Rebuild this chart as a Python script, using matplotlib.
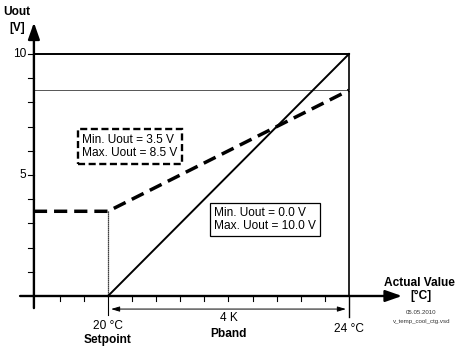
import numpy as np
import matplotlib
matplotlib.use("Agg")
import matplotlib.pyplot as plt

plt.rcParams["font.family"] = ["Liberation Sans", "DejaVu Sans"]

# characteristic values
setpoint = 20.0          # °C
pband = 4.0              # K
end_temp = setpoint + pband
curve_a_min, curve_a_max = 0.0, 10.0   # solid line
curve_b_min, curve_b_max = 3.5, 8.5    # dashed line
y_max = 10.0
y_tick_vals = [1, 2, 3, 4, 5, 6, 7, 8, 9, 10]
y_tick_labels = {10: "10", 5: "5"}
x_minor_ticks = [19.2, 19.6, 20.4, 20.8, 21.2, 21.6, 22.0, 22.4, 22.8, 23.2, 23.6]

# axis origin in data coordinates
x0 = 18.77

fig = plt.figure(figsize=(4.57, 3.52), dpi=100)
ax = fig.add_axes([0, 0, 1, 1])
ax.set_xlim(18.207, 25.793)
ax.set_ylim(-2.314, 12.23)
ax.axis("off")

black = "#000000"
fs = 8.6

# axes with arrows
ax.annotate("", xy=(24.88, 0), xytext=(18.54, 0),
            arrowprops=dict(arrowstyle="-|>,head_length=1.0,head_width=0.35",
                            lw=1.7, color=black, shrinkA=0, shrinkB=0))
ax.annotate("", xy=(x0, 11.3), xytext=(x0, -0.5),
            arrowprops=dict(arrowstyle="-|>,head_length=1.0,head_width=0.35",
                            lw=1.7, color=black, shrinkA=0, shrinkB=0))

# y ticks
for v in y_tick_vals:
    ax.plot([x0 - 0.1, x0], [v, v], color=black, lw=0.8)
for v, lab in y_tick_labels.items():
    ax.text(x0 - 0.13, v, lab, ha="right", va="center", fontsize=fs)

# x ticks
for t in x_minor_ticks:
    ax.plot([t, t], [0, -0.22], color=black, lw=0.8)
ax.plot([setpoint, setpoint], [0, -0.8], color=black, lw=0.8)
ax.plot([end_temp, end_temp], [0, -0.88], color=black, lw=1.0)

# frame: top line at 10 V and right vertical at 24 °C
ax.plot([x0, end_temp], [y_max, y_max], color=black, lw=1.4)
ax.plot([end_temp, end_temp], [y_max, 0], color=black, lw=1.2)
# thin line at max of dashed curve
ax.plot([x0, end_temp], [curve_b_max, curve_b_max], color="#555555", lw=0.7)

# solid characteristic
ax.plot([setpoint, end_temp], [curve_a_min, curve_a_max], color=black, lw=1.4)

# dashed characteristic
ax.plot([x0, setpoint, end_temp], [curve_b_min, curve_b_min, curve_b_max],
        color=black, lw=2.5, linestyle=(0, (3.8, 2.0)))
ax.plot([setpoint, setpoint], [curve_b_min, 0], color=black, lw=0.9, linestyle=(0, (1, 0.6)))

# Pband arrow
ax.annotate("", xy=(end_temp - 0.05, -0.54), xytext=(setpoint + 0.05, -0.54),
            arrowprops=dict(arrowstyle="<|-|>,head_length=0.5,head_width=0.15",
                            lw=0.7, color=black, shrinkA=0, shrinkB=0))

ax.text((setpoint + end_temp) / 2, -0.92, f"{pband:.0f} K", ha="center", va="center", fontsize=fs)
ax.text((setpoint + end_temp) / 2, -1.57, "Pband", ha="center", va="center", fontsize=fs,
        fontweight="bold")
ax.text(setpoint, -1.24, f"{setpoint:.0f} °C", ha="center", va="center", fontsize=fs)
ax.text(setpoint, -1.82, "Setpoint", ha="center", va="center", fontsize=fs, fontweight="bold")
ax.text(end_temp, -1.36, f"{end_temp:.0f} °C", ha="center", va="center", fontsize=fs)

# axis titles
ax.text(25.17, 0.54, "Actual Value", ha="center", va="center", fontsize=fs, fontweight="bold")
ax.text(25.2, 0.0, "[°C]", ha="center", va="center", fontsize=fs, fontweight="bold")
ax.text(25.2, -0.70, "05.05.2010", ha="center", va="center", fontsize=4.4, color="#333333")
ax.text(25.2, -1.07, "v_temp_cool_ctg.vsd", ha="center", va="center", fontsize=4.4,
        color="#333333")
ax.text(18.49, 11.73, "Uout", ha="center", va="center", fontsize=fs, fontweight="bold")
ax.text(18.50, 11.07, "[V]", ha="center", va="center", fontsize=fs, fontweight="bold")

# boxes
ax.text(19.57, 6.18, f"Min. Uout = {curve_b_min:.1f} V\nMax. Uout = {curve_b_max:.1f} V",
        ha="left", va="center", fontsize=fs, linespacing=1.2,
        bbox=dict(boxstyle="square,pad=0.35", fc="white", ec=black, lw=1.7,
                  linestyle=(0, (3, 1.5))))
ax.text(21.76, 3.16, f"Min. Uout = {curve_a_min:.1f} V\nMax. Uout = {curve_a_max:.1f} V",
        ha="left", va="center", fontsize=fs, linespacing=1.2,
        bbox=dict(boxstyle="square,pad=0.3", fc="white", ec=black, lw=0.9))

fig.savefig("out.png", dpi=100)
